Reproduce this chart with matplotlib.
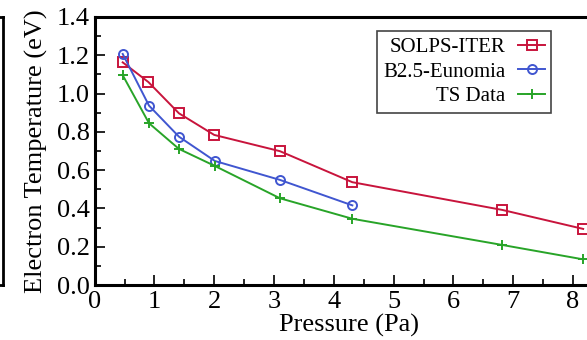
import matplotlib.pyplot as plt
from matplotlib.ticker import MultipleLocator

plt.rcParams['font.family'] = ['Liberation Serif', 'DejaVu Serif']

# values
solps_p = [0.47, 0.90, 1.41, 2.00, 3.10, 4.31, 6.82, 8.17]
solps_te = [1.163, 1.06, 0.897, 0.784, 0.699, 0.537, 0.392, 0.293]

b25_p = [0.47, 0.91, 1.41, 2.01, 3.10, 4.31]
b25_te = [1.207, 0.937, 0.775, 0.648, 0.549, 0.416]

ts_p = [0.47, 0.91, 1.41, 2.01, 3.10, 4.31, 6.82, 8.17]
ts_te = [1.096, 0.845, 0.711, 0.622, 0.453, 0.346, 0.209, 0.134]

RED = "#c8143c"
BLUE = "#4056d0"
GREEN = "#28a428"

W, H = 587, 340
fig = plt.figure(figsize=(W / 100, H / 100), dpi=100)

# main axes, right side runs off the figure like in the cropped original
x0, x1 = 94.6, 94.6 + 8.5 * 59.8
y_top, y_bot = 17.0, 285.0
ax = fig.add_axes([x0 / W, 1 - y_bot / H, (x1 - x0) / W, (y_bot - y_top) / H])

# sliver of the neighbouring panel on the left
ax_l = fig.add_axes([-0.2, 1 - y_bot / H, 0.2 + 3 / W, (y_bot - y_top) / H])
ax_l.set_xticks([])
ax_l.set_yticks([])
for s in ax_l.spines.values():
    s.set_linewidth(2.0)

ax.plot(solps_p, solps_te, color=RED, lw=1.4, marker="s", ms=6.5, mfc="none",
        mew=1.4, label="SOLPS-ITER")
ax.plot(b25_p, b25_te, color=BLUE, lw=1.4, marker="o", ms=6.5, mfc="none",
        mew=1.4, label="B2.5-Eunomia")
ax.plot(ts_p, ts_te, color=GREEN, lw=1.4, marker="+", ms=7.5, mew=1.4,
        label="TS Data")

ax.set_xlim(0, 8.5)
ax.set_ylim(0, 1.4)
ax.xaxis.set_major_locator(MultipleLocator(1))
ax.xaxis.set_minor_locator(MultipleLocator(0.5))
ax.yaxis.set_major_locator(MultipleLocator(0.2))
ax.yaxis.set_minor_locator(MultipleLocator(0.1))
ax.yaxis.set_major_formatter(plt.FormatStrFormatter("%.1f"))
ax.tick_params(which="both", direction="in", labelsize=19, width=1.2)
ax.tick_params(which="major", length=7)
ax.tick_params(which="minor", length=4)
ax.tick_params(axis="x", pad=4)
for s in ax.spines.values():
    s.set_linewidth(2.2)

ax.set_xlabel("Pressure (Pa)", fontsize=19, labelpad=1)
ax.set_ylabel("Electron Temperature (eV)", fontsize=19, labelpad=6)

leg = ax.legend(loc="upper left", bbox_to_anchor=((377 - x0) / (x1 - x0), 1 - 14 / (y_bot - y_top)),
                fontsize=15, markerfirst=False, fancybox=False, framealpha=1,
                edgecolor="#444444", handlelength=1.3, borderpad=0.3,
                labelspacing=0.25, handletextpad=0.6, borderaxespad=0)
leg.get_frame().set_linewidth(1.2)
for t in leg.get_texts():
    t.set_ha("right")

fig.savefig("out.png", dpi=100)
